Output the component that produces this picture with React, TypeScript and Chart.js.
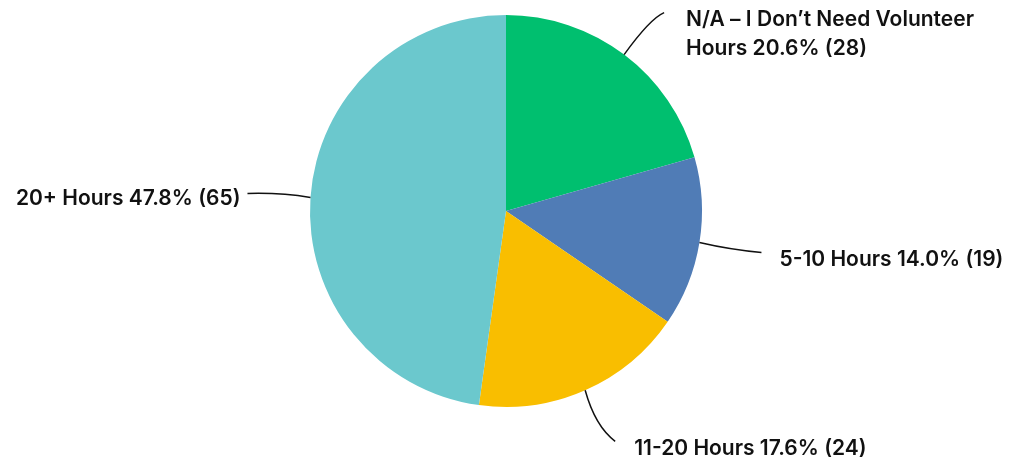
import React, { useEffect, useRef } from "react";
import { Chart, registerables } from "chart.js";

Chart.register(...registerables);

const categories = [
  "N/A – I Don’t Need Volunteer Hours",
  "5-10 Hours",
  "11-20 Hours",
  "20+ Hours",
];
const counts = [28, 19, 24, 65];
const colors = ["#00BF6F", "#507CB6", "#F9BE00", "#6BC8CD"];

const labelLayout = [
  { end: [40, -42], ctrl: [26, -36], text: [22, 7], align: "left", lines: ["N/A – I Don’t Need Volunteer", "Hours {p}"] },
  { end: [62, 10], ctrl: [30, 7], text: [18, 7], align: "left", lines: ["{c} {p}"] },
  { end: [30, 51], ctrl: [10, 36], text: [19, 7], align: "left", lines: ["{c} {p}"] },
  { end: [-63, -4], ctrl: [-30, -5], text: [-7, 5], align: "right", lines: ["{c} {p}"] },
];

const labelPlugin = {
  id: "leaderLabels",
  afterDatasetsDraw(chart: any) {
    const ctx = chart.ctx;
    const meta = chart.getDatasetMeta(0);
    const total = counts.reduce((a, b) => a + b, 0);
    ctx.save();
    meta.data.forEach((arc: any, i: number) => {
      const { x, y, startAngle, endAngle, outerRadius } = arc.getProps(
        ["x", "y", "startAngle", "endAngle", "outerRadius"],
        true
      );
      const mid = (startAngle + endAngle) / 2;
      const sx = x + Math.cos(mid) * outerRadius;
      const sy = y + Math.sin(mid) * outerRadius;
      const L = labelLayout[i];
      const ex = sx + L.end[0];
      const ey = sy + L.end[1];
      ctx.beginPath();
      ctx.moveTo(sx, sy);
      ctx.quadraticCurveTo(sx + L.ctrl[0], sy + L.ctrl[1], ex, ey);
      ctx.strokeStyle = "#111";
      ctx.lineWidth = 1.5;
      ctx.stroke();

      const pct = ((counts[i] / total) * 100).toFixed(1) + "% (" + counts[i] + ")";
      ctx.font = "600 21px Inter, 'Noto Sans', sans-serif";
      ctx.fillStyle = "#111";
      ctx.textAlign = L.align;
      ctx.textBaseline = "middle";
      const tx = ex + L.text[0];
      let ty = ey + L.text[1];
      L.lines.forEach((ln: string) => {
        const s = ln.replace("{c}", categories[i]).replace("{p}", pct);
        ctx.fillText(s, tx, ty);
        ty += 29;
      });
    });
    ctx.restore();
  },
};

export default function App() {
  const ref = useRef<HTMLCanvasElement>(null);
  useEffect(() => {
    const chart = new Chart(ref.current!, {
      type: "pie",
      data: {
        labels: categories,
        datasets: [
          {
            data: counts,
            backgroundColor: colors,
            borderWidth: 0,
          },
        ],
      },
      options: {
        animation: false,
        responsive: false,
        layout: { padding: { left: 2, right: 0, top: 15, bottom: 56 } },
        plugins: { legend: { display: false }, tooltip: { enabled: false } },
      },
      plugins: [labelPlugin],
    });
    return () => chart.destroy();
  }, []);
  return (
    <div style={{ position: "fixed", left: 0, top: 0, width: 1010, height: 463, background: "#fff" }}>
      <canvas ref={ref} width={1010} height={463} />
    </div>
  );
}
